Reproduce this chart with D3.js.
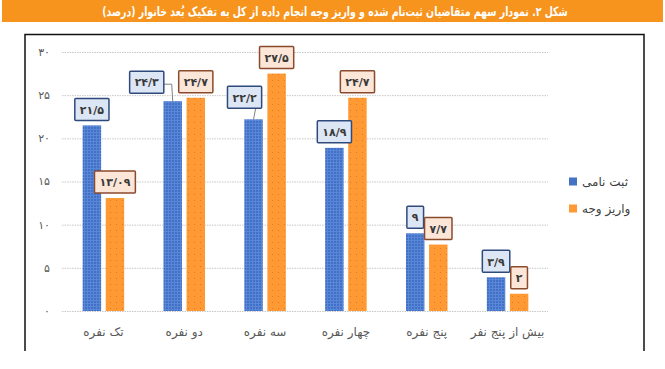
<!DOCTYPE html>
<html><head><meta charset="utf-8">
<script src="https://cdn.jsdelivr.net/npm/d3@7/dist/d3.min.js"></script>
<style>
html,body{margin:0;padding:0;background:#fff;}
svg{display:block;}
text{font-family:"DejaVu Sans",sans-serif;}
</style></head>
<body><div id="chart"></div>
<script>
const title = "شکل ۲. نمودار سهم متقاضیان ثبت‌نام شده و واریز وجه انجام داده از کل به تفکیک بُعد خانوار (درصد)";
const categories = ["تک نفره","دو نفره","سه نفره","چهار نفره","پنج نفره","بیش از پنج نفر"];
const seriesNames = ["ثبت نامی","واریز وجه"];
const registered = [21.5, 24.3, 22.2, 18.9, 9, 3.9];
const paid = [13.09, 24.7, 27.5, 24.7, 7.7, 2];
const registeredLabels = ["۲۱/۵","۲۴/۳","۲۲/۲","۱۸/۹","۹","۳/۹"];
const paidLabels = ["۱۳/۰۹","۲۴/۷","۲۷/۵","۲۴/۷","۷/۷","۲"];
const yTicks = [0,5,10,15,20,25,30];
const yTickLabels = ["۰","۵","۱۰","۱۵","۲۰","۲۵","۳۰"];

const W = 665, H = 369;
const colors = ["#4472C4","#FF9933"];
const svg = d3.select("#chart").append("svg").attr("width",W).attr("height",H);

const defs = svg.append("defs");
const pb = defs.append("pattern").attr("id","pBlue").attr("width",3).attr("height",3).attr("patternUnits","userSpaceOnUse");
pb.append("rect").attr("width",3).attr("height",3).attr("fill","#4070C8");
pb.append("rect").attr("width",1).attr("height",3).attr("fill","#5A86D6");
pb.append("rect").attr("width",3).attr("height",1).attr("fill","#5A86D6");
const po = defs.append("pattern").attr("id","pOrange").attr("width",6).attr("height",6).attr("patternUnits","userSpaceOnUse");
po.append("rect").attr("width",6).attr("height",6).attr("fill","#FF9933");
po.append("rect").attr("x",2).attr("y",2).attr("width",1).attr("height",1).attr("fill","#E0782A");
const fills = ["url(#pBlue)","url(#pOrange)"];

// title bar
svg.append("rect").attr("x",2).attr("y",0).attr("width",661).attr("height",22).attr("fill","#F7941D");
const tg = svg.append("g");
const tt = tg.append("text").attr("x",0).attr("y",0).attr("text-anchor","middle")
  .attr("direction","rtl").attr("fill","#fff").attr("font-weight","bold")
  .attr("font-size",13).text(title);
const tl = tt.node().getComputedTextLength();
const sx = Math.min(1, 466/tl);
tg.attr("transform",`translate(335,15.5) scale(${sx},1)`);

// frame
svg.append("path").attr("d","M25,351 L25,34.5 L644,34.5 L644,351").attr("fill","none").attr("stroke","#111").attr("stroke-width",1.5);

const x0 = d3.scaleBand().domain(categories).range([63,548]);
const y = d3.scaleLinear().domain([0,30]).range([311,52]);

// gridlines
svg.append("g").selectAll("line").data(yTicks).join("line")
  .attr("x1",62).attr("x2",548).attr("y1",d=>y(d)+0.5).attr("y2",d=>y(d)+0.5)
  .attr("stroke","#C8C8C8").attr("stroke-width",1).attr("stroke-dasharray","1.5,1");

// y axis labels
svg.append("g").selectAll("text").data(yTicks).join("text")
  .attr("x",50).attr("y",d=>y(d)).attr("dy","0.35em").attr("text-anchor","end")
  .attr("font-size",11).attr("fill","#595959").text((d,i)=>yTickLabels[i]);

// category labels
svg.append("g").selectAll("text").data(categories).join("text")
  .attr("x",d=>x0(d)+x0.bandwidth()/2).attr("y",336).attr("text-anchor","middle")
  .attr("font-size",12).attr("fill","#595959").text(d=>d);

const data = [registered, paid];
const labels = [registeredLabels, paidLabels];
const labelOffsets = {"0-1":[-26,-3],"0-2":[-9,-6]};

categories.forEach((c,ci)=>{
  const cx = x0(c)+x0.bandwidth()/2;
  const x1 = d3.scaleBand().domain([0,1]).range([cx-20.75,cx+20.75]).paddingInner(0.2);
  [0,1].forEach(si=>{
    const v = data[si][ci];
    svg.append("rect").attr("x",x1(si)).attr("y",y(v)).attr("width",x1.bandwidth()).attr("height",y(0)-y(v))
      .attr("fill",fills[si]);
  });
});

// value label boxes
categories.forEach((c,ci)=>{
  const cx = x0(c)+x0.bandwidth()/2;
  const x1 = d3.scaleBand().domain([0,1]).range([cx-20.75,cx+20.75]).paddingInner(0.2);
  [0,1].forEach(si=>{
    const v = data[si][ci];
    const bx = x1(si)+x1.bandwidth()/2, by = y(v);
    const off = labelOffsets[si+"-"+ci] || [0,0];
    const g = svg.append("g");
    const t = g.append("text").attr("text-anchor","middle").attr("font-size",11).attr("font-weight","bold")
      .attr("fill","#3A3A3A").text(labels[si][ci]);
    const tw = t.node().getComputedTextLength();
    const bw = Math.max(tw+10, 16), bh = 22;
    const cxl = bx+off[0], bottom = by-5+off[1];
    if (off[0]!==0 || off[1]!==0){
      let pts;
      if (off[0] < -15) pts = [[cxl+bw/2, bottom-bh/2+2],[bx-1, bottom-bh/2+2],[bx, by]];
      else pts = [[cxl+bw/2-6, bottom],[bx, by]];
      g.insert("polyline","text").attr("points",pts.map(p=>p.join(",")).join(" ")).attr("fill","none").attr("stroke","#808080").attr("stroke-width",1);
    }
    g.insert("rect","text").attr("x",cxl-bw/2).attr("y",bottom-bh).attr("width",bw).attr("height",bh)
      .attr("fill",si===0?"#DCE6F4":"#FCE6D8").attr("stroke",si===0?"#2F4A7C":"#8A4A2C").attr("stroke-width",1.5).attr("rx",1);
    t.attr("x",cxl).attr("y",bottom-bh/2).attr("dy","0.38em");
  });
});

// legend
seriesNames.forEach((s,i)=>{
  const ly = 181.5 + i*27;
  svg.append("rect").attr("x",569).attr("y",ly-4).attr("width",8).attr("height",8).attr("fill",colors[i]);
  svg.append("text").attr("x",582).attr("y",ly).attr("dy","0.35em").attr("font-size",12).attr("fill","#404040").text(s);
});
</script></body></html>
